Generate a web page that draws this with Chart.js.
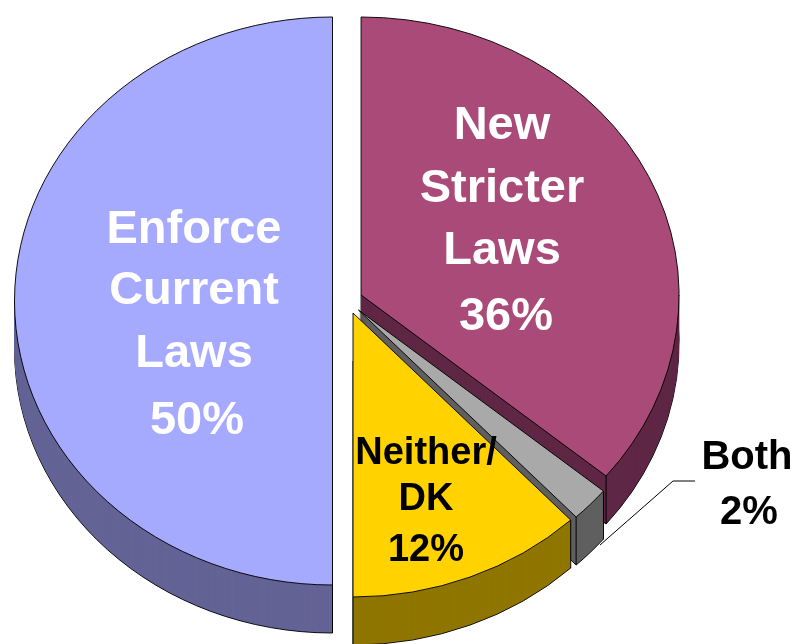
<!DOCTYPE html>
<html>
<head>
<meta charset="utf-8">
<title>Enforce Current Laws vs New Stricter Laws</title>
<script src="https://cdn.jsdelivr.net/npm/chart.js@4"></script>
<style>
  html,body{margin:0;padding:0;background:#fff;}
  #wrap{width:796px;height:644px;overflow:hidden;}
</style>
</head>
<body>
<div id="wrap"><canvas id="pie" width="796" height="644"></canvas></div>
<script>
const categories = ['New Stricter Laws', 'Both', 'Neither/DK', 'Enforce Current Laws'];
const shares = [36, 2, 12, 50];
const topColors = ['#AA4A78', '#A9A9A9', '#FFD200', '#A6AAFF'];
const sideColors = ['#5F2745', '#5F5F5F', '#8F7600', '#636396'];
const labelLines = [
  ['New', 'Stricter', 'Laws', '36%'],
  ['Both', '2%'],
  ['Neither/', 'DK', '12%'],
  ['Enforce', 'Current', 'Laws', '50%'],
];
const labelColors = ['#fff', '#000', '#000', '#fff'];

// the tilted look: pie is squashed and every slice gets a wall underneath
const PIE = {cx: 347.5, cy: 301, rx: 318, ry: 284, top: 17, depth: 48, explode: 15};
const DRAW_ORDER = [3, 0, 1, 2]; // back to front
const LABEL_SPOTS = [
  {xs: [502, 502, 502, 506], ys: [126, 189, 251, 317], size: 47},
  {xs: [747, 749], ys: [458, 513], size: 40},
  {xs: [426, 426, 426], ys: [454, 500, 551], size: 38},
  {xs: [194, 194, 194, 197], ys: [230, 291, 354, 421], size: 47},
];
const LEADER = [[600, 545], [673, 481], [695, 481]];
const chartW = 796, chartH = 644;

function sliceOrigin(arc){
  const mid = (arc.startAngle + arc.endAngle) / 2;
  return {
    x: PIE.cx + Math.cos(mid) * PIE.explode,
    y: Math.round(PIE.cy + Math.sin(mid) * PIE.explode * PIE.ry / PIE.rx),
  };
}

function drawSlice(ctx, arc, drop, ry){
  const o = sliceOrigin(arc);
  ctx.save();
  ctx.translate(o.x, o.y + drop);
  ctx.scale(PIE.rx / arc.outerRadius, (ry || PIE.ry) / arc.outerRadius);
  ctx.translate(-arc.x, -arc.y);
  arc.draw(ctx);
  ctx.restore();
}

// upper edge of the pie stays at the same height even for slices moved up,
// so the part above the slice tip gets its own, smaller radius
function drawTop(ctx, arc){
  const o = sliceOrigin(arc);
  if(o.y >= PIE.cy){ drawSlice(ctx, arc, 0); return; }
  ctx.save();
  ctx.beginPath();
  ctx.rect(0, 0, chartW, o.y + 1);
  ctx.clip();
  drawSlice(ctx, arc, 0, o.y - PIE.top);
  ctx.restore();
  ctx.save();
  ctx.beginPath();
  ctx.rect(0, o.y, chartW, chartH - o.y);
  ctx.clip();
  drawSlice(ctx, arc, 0);
  ctx.restore();
}

function drawCorner(ctx, arc, angle){
  const o = sliceOrigin(arc);
  const x = o.x + Math.cos(angle) * PIE.rx;
  const y = o.y + Math.sin(angle) * PIE.ry;
  ctx.beginPath();
  ctx.moveTo(x, y);
  ctx.lineTo(x, y + PIE.depth);
  ctx.strokeStyle = '#000';
  ctx.lineWidth = 1;
  ctx.stroke();
}

const tiltedPie = {
  id: 'tiltedPie',
  beforeDatasetsDraw(chart){
    const ctx = chart.ctx;
    const arcs = chart.getDatasetMeta(0).data;
    DRAW_ORDER.forEach(i => {
      const arc = arcs[i];
      const topOptions = arc.options;
      // walls only show below the slice tip
      ctx.save();
      ctx.beginPath();
      ctx.rect(0, sliceOrigin(arc).y, chartW, chartH);
      ctx.clip();
      // bottom rim with outline, then plain fill going up
      arc.options = {...topOptions, backgroundColor: sideColors[i]};
      drawSlice(ctx, arc, PIE.depth);
      arc.options = {...topOptions, backgroundColor: sideColors[i], borderWidth: 0};
      for(let d = PIE.depth - 1; d > 0; d--) drawSlice(ctx, arc, d);
      drawCorner(ctx, arc, arc.startAngle);
      drawCorner(ctx, arc, arc.endAngle);
      ctx.restore();
      arc.options = topOptions;
      drawTop(ctx, arc);
    });
    return false;
  },
  afterDraw(chart){
    const ctx = chart.ctx;
    ctx.save();
    ctx.beginPath();
    LEADER.forEach(([x, y], i) => i ? ctx.lineTo(x, y) : ctx.moveTo(x, y));
    ctx.strokeStyle = '#000';
    ctx.lineWidth = 1;
    ctx.stroke();
    ctx.textAlign = 'center';
    ctx.textBaseline = 'middle';
    labelLines.forEach((lines, i) => {
      const spot = LABEL_SPOTS[i];
      ctx.font = 'bold ' + spot.size + 'px "Liberation Sans", Arial, sans-serif';
      ctx.fillStyle = labelColors[i];
      lines.forEach((line, j) => ctx.fillText(line, spot.xs[j], spot.ys[j]));
    });
    ctx.restore();
  }
};

new Chart(document.getElementById('pie'), {
  type: 'pie',
  data: {
    labels: categories,
    datasets: [{
      data: shares,
      backgroundColor: topColors,
      borderColor: '#000',
      borderWidth: 1,
    }]
  },
  options: {
    responsive: false,
    animation: false,
    events: [],
    plugins: {legend: {display: false}, tooltip: {enabled: false}, title: {display: false}},
  },
  plugins: [tiltedPie]
});
</script>
</body>
</html>
